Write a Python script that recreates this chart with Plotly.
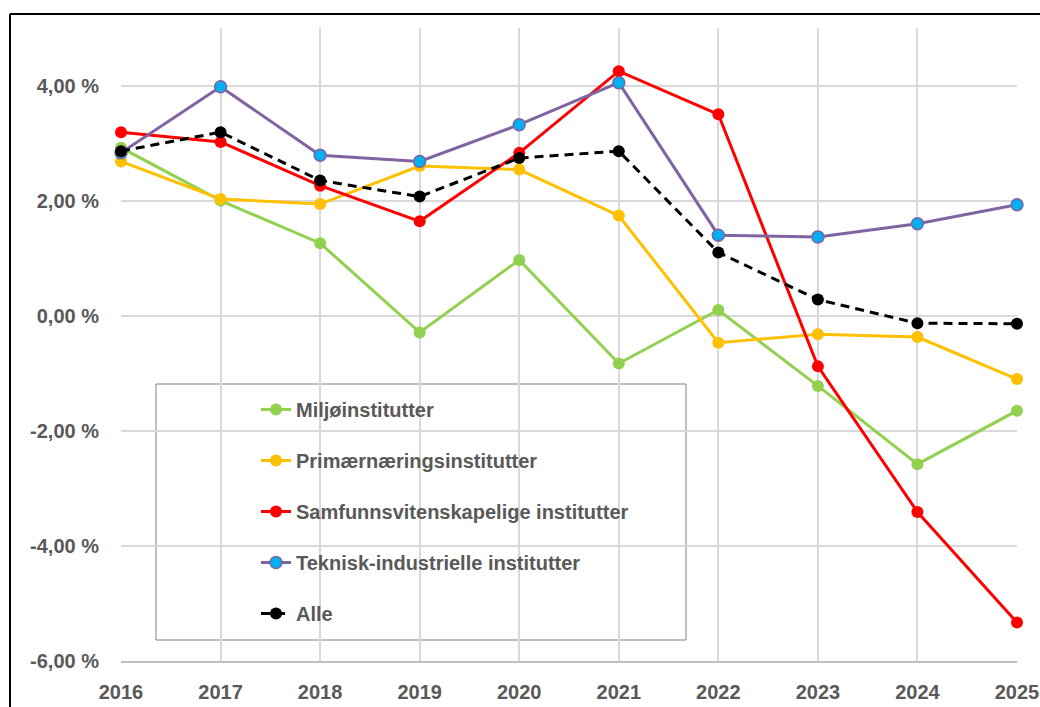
import plotly.graph_objects as go

years = [2016, 2017, 2018, 2019, 2020, 2021, 2022, 2023, 2024, 2025]
year_labels = ["2016", "2017", "2018", "2019", "2020", "2021", "2022", "2023", "2024", "2025"]

miljo = [2.92, 2.00, 1.26, -0.29, 0.97, -0.83, 0.10, -1.22, -2.58, -1.65]
primaer = [2.68, 2.03, 1.94, 2.60, 2.54, 1.74, -0.47, -0.32, -0.37, -1.10]
samfunn = [3.19, 3.02, 2.26, 1.64, 2.83, 4.25, 3.50, -0.88, -3.41, -5.33]
teknisk = [2.83, 3.98, 2.79, 2.68, 3.32, 4.05, 1.40, 1.37, 1.60, 1.93]
alle = [2.86, 3.19, 2.35, 2.07, 2.74, 2.86, 1.10, 0.28, -0.13, -0.14]

series_names = ["Miljøinstitutter", "Primærnæringsinstitutter",
                "Samfunnsvitenskapelige institutter", "Teknisk-industrielle institutter", "Alle"]

y_tickvals = [-6, -4, -2, 0, 2, 4]
y_ticktext = ["-6,00 %", "-4,00 %", "-2,00 %", "0,00 %", "2,00 %", "4,00 %"]

FONT = "Liberation Sans"
GREY_TEXT = "#595959"

styles = [
    dict(line=dict(color="#92D050", width=3), marker=dict(color="#92D050", size=12)),
    dict(line=dict(color="#FFC000", width=3), marker=dict(color="#FFC000", size=12)),
    dict(line=dict(color="#FF0000", width=3), marker=dict(color="#FF0000", size=12)),
    dict(line=dict(color="#8064A2", width=3),
         marker=dict(color="#00B0F0", size=12, line=dict(color="#8064A2", width=1.5))),
    dict(line=dict(color="#000000", width=3, dash="9px,6px"), marker=dict(color="#000000", size=12)),
]

fig = go.Figure()
for i, (name, vals) in enumerate(zip(series_names, [miljo, primaer, samfunn, teknisk, alle])):
    fig.add_trace(go.Scatter(
        x=years, y=vals, name=name, mode="lines+markers",
        legendgroup=f"g{i}", cliponaxis=False, **styles[i]))

W, H = 1040, 707
L, R, T, B = 121, 1040 - 1017, 28, 707 - 661
pw, ph = W - L - R, H - T - B

def px_x(X):
    return (X - L) / pw

def px_y(Y):
    return (H - B - Y) / ph

fig.update_layout(
    width=W, height=H,
    margin=dict(l=L, r=R, t=T, b=B, pad=0, autoexpand=False),
    paper_bgcolor="white", plot_bgcolor="white",
    font=dict(family=FONT, color=GREY_TEXT),
    showlegend=True,
    legend=dict(
        x=px_x(256), y=px_y(390), xanchor="left", yanchor="top",
        bgcolor="rgba(0,0,0,0)", borderwidth=0,
        font=dict(family=FONT, size=20, color=GREY_TEXT, weight="bold"),
        tracegroupgap=22, traceorder="grouped", itemwidth=30,
    ),
    xaxis=dict(
        range=[2016, 2025], tickvals=years, ticktext=year_labels,
        automargin=False, ticklabeloverflow="allow",
        showgrid=True, gridcolor="#D9D9D9", gridwidth=1.5,
        showline=True, linecolor="#BFBFBF", linewidth=1.5,
        zeroline=False, ticks="outside", ticklen=12, tickcolor="rgba(0,0,0,0)",
        tickfont=dict(family=FONT, size=20, color=GREY_TEXT, weight="bold"),
    ),
    yaxis=dict(
        range=[-6, 5], tickvals=y_tickvals, ticktext=y_ticktext,
        automargin=False,
        showgrid=True, gridcolor="#D9D9D9", gridwidth=1.5,
        zeroline=False, showline=False,
        ticks="outside", ticklen=17, tickcolor="rgba(0,0,0,0)",
        tickfont=dict(family=FONT, size=20, color=GREY_TEXT, weight="bold"),
    ),
    shapes=[
        # legend box
        dict(type="rect", xref="paper", yref="paper",
             x0=px_x(156), x1=px_x(686), y0=px_y(640), y1=px_y(384),
             line=dict(color="#7F7F7F", width=1), fillcolor="white", layer="between"),
        # outer chart border (left and top visible)
        dict(type="line", xref="paper", yref="paper",
             x0=px_x(10), x1=px_x(10), y0=px_y(720), y1=px_y(14),
             line=dict(color="black", width=2)),
        dict(type="line", xref="paper", yref="paper",
             x0=px_x(10), x1=px_x(1050), y0=px_y(14), y1=px_y(14),
             line=dict(color="black", width=2)),
    ],
)

fig.write_html(
    "out.html",
    config={"displayModeBar": False},
    post_script="document.body.style.margin='0';document.body.style.overflow='hidden';",
)
